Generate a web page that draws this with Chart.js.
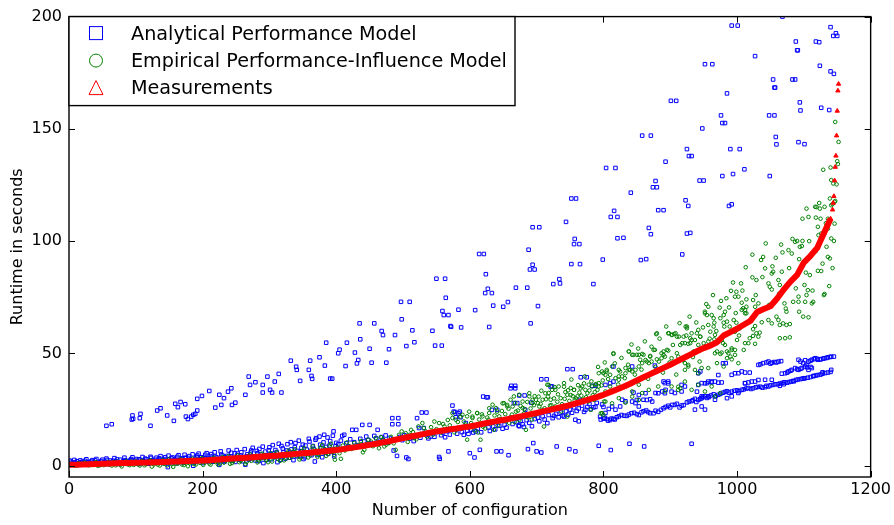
<!DOCTYPE html>
<html>
<head>
<meta charset="utf-8">
<script src="https://cdn.jsdelivr.net/npm/chart.js@4.4.0/dist/chart.umd.min.js"></script>
<style>
  html, body { margin: 0; padding: 0; background: #fff; }
</style>
</head>
<body>
<canvas id="myChart" width="894" height="525"></canvas>
<script>
// axis ticks and series labels
const xTicks = [0, 200, 400, 600, 800, 1000, 1200];
const yTicks = [0, 50, 100, 150, 200];
const seriesNames = ['Analytical Performance Model', 'Empirical Performance-Influence Model', 'Measurements'];

// [configuration, runtime]
const analyticalUpper = [
  [56,17.8],[64,18.5],[94,20.6],[95,22.4],[96,20.9],[106,21.2],[107,23.1],[122,17.8],[132,24.6],[137,25.6],
  [147,22.4],[157,20.0],[159,27.6],[163,26.1],[167,28.4],[174,27.4],[175,21.9],[178,20.8],[183,21.9],[186,22.7],
  [189,23.1],[192,24.6],[192,29.8],[199,31.1],[210,33.3],[219,25.9],[225,31.6],[228,27.1],[232,30.1],[238,33.0],
  [243,34.5],[244,27.1],[249,28.1],[264,31.6],[269,39.7],[271,36.0],[279,37.2],[290,36.0],[290,32.6],[297,39.7],
  [301,33.8],[304,32.6],[308,37.5],[314,40.9],[318,32.6],[332,46.8],[340,44.1],[341,42.7],[346,37.8],[359,42.7],
  [361,46.8],[363,40.0],[364,38.7],[375,48.3],[383,44.6],[385,54.8],[391,38.8],[394,38.8],[403,50.1],[405,51.7],
  [414,44.4],[416,54.8],[428,50.4],[431,45.6],[433,47.1],[435,63.4],[436,56.3],[450,52.1],[453,45.9],[457,63.4],
  [468,60.0],[470,58.2],[475,45.9],[479,51.9],[488,58.2],[497,73.0],[498,65.2],[505,53.3],[510,73.0],[514,60.3],
  [517,55.0],[544,60.1],[548,53.5],[550,83.3],[558,53.5],[559,68.9],[561,67.1],[563,83.3],[564,74.8],[568,67.1],
  [571,62.2],[572,61.9],[583,69.5],[587,61.6],[608,69.3],[614,94.3],[621,94.3],[623,76.9],[624,85.3],[627,78.8],
  [629,61.8],[633,76.9],[635,71.3],[650,70.8],[657,72.9],[669,79.3],[686,79.3],[688,96.2],[690,87.4],[691,63.4],
  [694,89.5],[694,106.2],[697,87.4],[702,71.1],[704,106.2],[725,80.9],[734,83.1],[735,81.2],[744,108.6],[752,89.8],
  [752,119.0],[756,98.7],[757,101.0],[759,119.0],[764,98.7],[765,89.8],[785,80.9],[799,91.8],[804,132.6],[811,110.8],
  [816,113.5],[818,132.6],[821,110.8],[821,101.3],[830,101.5],[841,121.6],[856,91.6],[858,147.0],[864,92.0],[868,105.9],
  [871,103.1],[871,147.0],[874,124.0],[878,126.8],[880,124.0],[882,113.8],[890,113.8],[893,135.4],[901,162.5],[909,162.5],
  [918,94.1],[923,118.2],[925,141.0],[925,103.4],[927,115.7],[928,137.9],[930,103.7],[932,137.9],[944,127.0],[948,150.2],
  [950,127.0],[952,178.8],[963,178.8],[976,156.0],[978,152.6],[978,129.0],[982,152.6],[985,165.8],[988,115.7],[990,141.0],
  [992,196.0],[992,116.4],[994,129.9],[1001,196.0],[1004,141.0],[1011,132.0],[1027,182.4],[1048,156.0],[1049,129.0],[1054,172.0],
  [1056,168.4],[1056,156.0],[1057,168.4],[1058,146.4],[1059,143.1],[1068,200.0],[1083,172.0],[1087,172.0],[1088,188.9],[1090,185.0],
  [1091,185.0],[1092,144.1],[1094,161.8],[1095,158.2],[1101,143.2],[1118,188.9],[1123,188.6],[1124,178.1],[1126,159.4],[1138,158.4],
  [1140,195.3],[1140,175.6],[1144,191.4],[1145,174.5],[1148,192.6],[1150,191.4]
];

const analyticalLower = [
  [0,1.0],[3,1.8],[6,0.8],[9,1.5],[12,2.0],[15,1.1],[18,1.6],[21,0.9],[24,2.2],[27,1.4],[30,1.0],[33,1.9],[36,1.3],[39,2.4],
  [42,0.9],[45,1.7],[48,2.1],[51,1.2],[54,1.8],[57,2.6],[60,1.0],[63,1.5],[66,2.2],[69,1.3],[72,2.8],[75,1.6],[78,0.9],[81,2.0],
  [84,2.5],[87,1.4],[90,1.9],[93,3.0],[96,1.2],[99,2.3],[102,1.7],[105,2.9],[108,1.1],[111,2.4],[114,3.2],[117,1.6],[120,2.1],
  [123,3.5],[126,1.3],[129,2.7],[132,2.0],[135,3.3],[138,1.5],[141,2.6],[144,3.8],[147,1.9],[148,-0.6],[150,2.8],[153,3.4],
  [156,1.7],[159,2.4],[162,4.0],[165,2.2],[168,3.0],[171,1.4],[174,3.6],[177,2.5],[180,4.3],[183,1.8],[186,0.0],[189,3.1],
  [192,4.6],[195,2.3],[198,3.8],[201,2.9],[204,4.9],[207,1.9],[210,3.4],[213,5.2],[216,2.6],[219,4.1],[222,3.0],[225,0.4],
  [228,5.0],[231,2.2],[234,3.7],[237,4.4],[240,2.8],[243,5.8],[246,3.3],[249,1.7],[252,4.8],[255,2.7],[258,6.0],[261,3.9],
  [264,0.5],[267,5.1],[270,3.0],[273,6.8],[276,4.2],[279,2.4],[282,5.6],[285,7.5],[288,3.5],[291,1.2],[294,6.3],[297,4.6],
  [300,8.2],[303,2.9],[306,5.4],[309,7.0],[312,1.6],[315,4.0],[318,8.8],[321,6.0],[324,3.2],[327,9.6],[330,5.0],[333,7.3],
  [336,2.5],[339,10.1],[342,6.6],[345,4.3],[348,8.0],[351,3.0],[354,9.0],[357,5.7],[360,10.8],[363,4.7],[366,7.6],[368,1.9],
  [370,12.3],[373,6.2],[376,9.4],[379,3.8],[382,13.8],[385,8.4],[388,5.3],[391,11.0],[394,7.0],[396,15.3],[397,4.2],[400,10.2],
  [1,2.3],[4,0.6],[8,2.6],[11,1.2],[14,0.5],[17,2.4],[20,1.8],[23,0.6],[26,2.9],[29,1.7],[32,0.7],[35,2.5],[38,1.0],[41,3.0],
  [44,1.4],[47,0.6],[50,2.7],[53,1.5],[56,3.2],[59,0.7],[62,2.3],[65,1.1],[68,3.4],[71,1.9],[74,0.8],[77,2.7],[80,1.3],[83,3.6],
  [86,2.1],[89,0.9],[92,2.5],[95,3.8],[98,1.6],[101,3.0],[104,0.8],[107,2.3],[110,3.9],[113,1.8],[116,2.8],[119,0.9],[122,4.0],
  [125,2.4],[128,1.4],[131,3.6],[134,2.6],[137,4.3],[140,1.2],[143,3.0],[146,2.2],[149,4.5],[152,1.5],[155,3.7],[158,2.9],
  [161,1.1],[164,4.7],[167,2.0],[170,3.3],[173,4.9],[176,1.8],[179,3.5],[182,2.7],[185,5.1],[188,1.5],[191,3.9],[194,5.4],
  [197,2.9],[200,1.2],[203,3.6],[206,5.6],[209,2.4],[212,4.3],[215,1.8],[218,6.0],[221,3.7],[224,2.5],[227,6.4],[230,4.5],
  [233,1.9],[236,3.3],[239,6.8],[242,4.0],[245,2.3],[248,5.5],[251,7.0],[254,3.6],[257,4.6],[260,2.0],[263,7.4],[266,4.2],
  [269,2.8],[272,5.9],[275,8.0],[278,3.4],[281,6.6],[284,2.1],[287,5.0],[290,8.5],[293,4.0],[296,2.6],[299,6.9],[302,5.2],
  [305,9.2],[308,3.8],[311,6.1],[314,9.8],[317,2.7],[320,7.7],[323,4.8],[326,6.8],[329,3.6],[332,10.5],[335,5.9],[338,8.3],
  [341,4.2],[344,11.2],[347,6.3],[350,9.4],[353,3.8],[356,7.2],[359,12.0],[362,5.6],[365,8.8],[369,11.6],[372,4.8],[375,13.0],
  [378,7.9],[381,10.4],[384,5.8],[387,12.6],[390,9.0],[393,6.2],[395,13.4],[399,8.8],
  [403,9.5],[407,11.2],[409,13.3],[412,13.8],[415,10.0],[418,8.6],[421,11.8],[424,16.0],[427,10.5],[430,16.0],[433,9.2],
  [436,12.0],[439,18.2],[442,10.8],[445,13.0],[448,11.5],[450,18.2],[453,9.9],[457,13.3],[460,12.2],[462,16.0],[465,10.6],
  [468,12.8],[471,11.1],[474,13.5],[477,10.3],[480,12.4],[484,21.2],[484,18.5],[486,6.8],[488,11.7],[491,4.4],[493,21.2],
  [493,18.5],[496,12.9],[499,11.4],[502,13.6],[505,3.7],[508,3.0],[510,12.1],[513,13.3],[516,11.0],[520,13.3],[521,21.2],
  [524,16.8],[526,12.5],[528,23.7],[531,16.8],[533,14.0],[535,23.7],[538,12.2],[541,13.0],[544,14.6],[547,12.9],[550,15.0],
  [554,3.9],[555,3.1],[557,13.6],[560,14.8],[563,12.7],[566,15.4],[568,6.4],[570,13.9],[574,26.8],[576,24.1],[578,23.9],
  [579,21.6],[581,14.3],[583,23.4],[585,24.1],[586,21.6],[588,15.0],[591,13.8],[594,19.0],[596,15.6],[598,14.2],[600,5.6],
  [602,16.1],[605,14.8],[607,3.7],[609,15.3],[612,16.6],[615,7.1],[617,14.9],[620,30.8],[625,30.5],[627,30.5],[628,17.1],
  [630,15.5],[633,24.9],[635,17.5],[638,16.2],[640,6.4],[641,24.9],[644,17.8],[647,6.4],[649,16.5],[652,18.3],[655,17.0],
  [658,4.7],[661,34.5],[662,35.6],[664,18.6],[666,27.9],[668,34.5],[668,35.6],[670,19.4],[671,27.9],[673,17.9],[674,31.3],
  [674,17.6],[676,19.9],[679,18.5],[681,17.3],[682,31.3],[683,24.9],[685,20.3],[687,7.4],[689,19.1],[692,28.1],[693,17.6],
  [695,10.1],[697,20.8],[700,6.4],[702,21.5],[704,19.8],[707,5.9],[707,38.5],[709,22.0],[712,20.6],[715,38.5],[716,19.0],
  [718,22.6],[721,35.3],[723,35.3],[724,21.2],[726,22.2],[729,23.1],[730,8.6],[733,21.6],[736,23.7],[739,22.4],[741,21.9],
  [744,24.2],[746,43.0],[747,22.8],[749,7.4],[750,25.0],[753,23.6],[754,43.0],[756,26.0],[758,6.4],[758,20.5],[760,24.4],
  [763,25.5],[763,19.8],[765,29.3],[766,39.4],[768,26.8],[771,24.0],[773,24.9],[775,39.4],[776,26.2],[779,27.5],[781,25.2],
  [783,35.6],[785,26.0],[788,35.6],[788,26.2],[790,28.0],[793,8.9],[795,21.9],[798,27.3],
  [800,21.0],[805,20.8],[810,20.4],[815,20.9],[820,21.6],[827,22.6],[835,22.2],[842,23.4],[850,23.0],[857,23.8],[864,24.6],
  [870,23.4],[875,23.4],[882,24.0],[890,25.6],[897,26.7],[903,27.1],[907,27.1],[914,26.0],[920,27.0],[925,28.2],[932,28.8],
  [937,29.8],[942,29.3],[947,30.1],[952,31.0],[958,30.6],[965,31.8],[972,31.6],[979,32.5],[985,33.2],[992,33.0],[1000,33.6],
  [1007,33.8],[1014,34.4],[1021,34.2],[1028,34.9],[1035,35.2],[1042,35.0],[1047,35.3],[1054,36.0],[1061,36.3],[1068,36.9],
  [1075,37.0],[1081,37.5],[1088,38.2],[1095,38.6],[1102,39.0],[1110,39.5],[1118,40.2],[1125,40.6],[1132,41.3],[1140,41.8],
  [796,20.6],[802,21.3],[807,20.1],[812,21.0],[817,20.6],[823,22.0],[831,22.3],[838,22.8],[846,23.6],[853,22.6],[860,24.3],
  [867,23.9],[878,24.5],[886,24.9],[893,26.2],[900,26.0],[910,27.6],[917,26.8],[928,28.6],[934,29.2],[939,28.4],[945,29.8],
  [949,30.6],[955,30.2],[961,31.3],[968,31.0],[975,32.0],[982,32.9],[988,32.6],[996,33.4],[1003,33.2],[1010,34.0],[1017,34.6],
  [1024,34.5],[1031,35.1],[1038,34.8],[1044,35.6],[1050,35.8],[1057,36.3],[1064,36.6],[1071,37.2],[1078,37.3],[1084,37.8],
  [1091,38.4],[1098,38.8],[1106,39.2],[1114,39.9],[1121,40.4],[1128,41.0],[1136,41.5],
  [800,26.2],[803,23.5],[808,25.3],[813,26.4],[818,25.0],[825,26.4],[828,29.4],[833,28.7],[843,28.6],[848,27.9],[850,29.3],
  [853,26.4],[865,29.3],[873,28.6],[937,25.0],[947,26.4],[952,25.0],
  [803,36.0],[810,36.7],[815,37.5],[845,32.6],[853,31.5],[860,29.4],[863,32.3],[870,29.6],[878,32.4],[882,32.3],[888,33.1],
  [890,37.5],[892,32.3],[893,33.8],[897,36.7],[902,33.0],[907,32.4],[917,36.0],[917,33.1],[922,35.3],[940,33.0],[942,36.0],
  [947,36.8],[947,30.9],[952,36.7],[955,36.8],[957,30.9],[962,37.5],[967,29.4],[967,37.5],[972,37.0],[977,37.1],[985,30.1],
  [992,30.9],[1002,32.4],[1012,36.7],[1022,37.5],[1032,38.2],
  [815,44.2],[843,44.2],[877,44.6],[892,36.8],[897,37.5],[942,41.2],[945,42.0],[957,37.5],[962,37.1],[972,40.4],[979,45.6],
  [983,45.7],[992,40.5],[997,41.2],[1002,41.2],[1007,42.0],[1012,41.5],[1012,36.8],[1017,37.1],[1019,41.5],[1027,37.5],
  [1032,44.9],[1039,45.7],[1042,38.3],[1047,46.4],[1052,45.9],[1052,38.3],[1062,46.4],[1064,35.6],[1070,36.3],[1072,41.2],
  [1077,42.0],[1082,42.7],[1085,37.6],[1087,43.5],[1092,47.2],[1092,42.7],[1097,43.5],[1099,45.7],[1100,38.9],[1102,44.2],
  [1104,44.9],[1107,46.4],[1107,42.7],[1112,47.2],[1112,43.5],[1115,40.0],[1117,47.9],[1121,47.2],[1126,47.5],[1128,41.6],
  [1131,47.9],[1136,48.3],[1141,48.6],[1141,42.7],
  [1035,45.2],[1044,46.0],[1050,45.5],[1056,46.2],[1059,46.0],[1066,46.6],[1095,46.4],[1102,47.0],[1110,46.8],[1115,47.5],
  [1120,47.6],[1124,47.3],[1129,47.7],[1134,48.0],[1139,48.4],[1145,48.6],[1067,41.0],[1075,41.5],[1080,42.3],[1090,43.0],
  [1095,43.2],[1105,43.8],[1110,44.0],
  [811,7.0],[839,9.8],[861,8.6],[932,9.8]
];

const empirical = [
  [2,0.3],[7,0.6],[12,0.1],[16,0.9],[21,0.4],[25,1.2],[30,0.2],[34,0.7],[39,1.4],[43,0.0],[48,0.8],[52,0.3],[57,1.1],[61,0.5],
  [66,1.6],[70,0.2],[75,0.9],[79,-0.3],[84,1.3],[88,0.6],[93,1.8],[97,0.4],[102,1.0],[106,0.1],[111,1.5],[115,0.7],[120,2.1],
  [124,-0.4],[129,1.2],[133,0.5],[138,1.9],[142,0.9],[147,0.2],[151,1.6],[156,-0.5],[160,1.0],[165,2.3],[169,0.6],[174,1.4],
  [178,-0.2],[183,2.0],[187,0.8],[192,2.7],[196,1.3],[201,0.4],[205,2.2],[210,1.0],[214,3.0],[219,1.7],[223,0.6],[228,2.6],
  [232,1.4],[237,3.3],[241,0.9],[246,2.1],[250,3.8],[255,1.6],[259,2.9],[264,0.8],[268,3.6],[273,2.2],[277,4.2],[282,1.5],
  [286,3.1],[291,4.7],[295,2.5],[300,3.9],[304,1.9],[309,5.1],[313,3.0],[318,4.4],[322,2.4],[327,5.7],[331,3.5],[336,6.2],
  [340,4.6],[345,2.8],[349,6.6],[354,5.0],[358,3.7],[363,7.2],[367,5.5],[372,4.0],[376,8.0],[381,6.0],[385,4.4],[390,8.6],
  [394,6.5],[398,2.7],
  [4,0.8],[9,0.2],[14,1.1],[18,0.5],[23,1.4],[27,0.3],[32,1.0],[37,0.4],[41,1.5],[46,0.2],[50,1.2],[55,0.6],[59,1.7],[64,0.1],
  [68,1.0],[73,1.8],[77,0.4],[82,0.9],[86,2.0],[91,0.3],[95,1.2],[100,1.9],[104,0.6],[109,2.2],[113,0.2],[118,1.3],[122,2.4],
  [127,0.6],[131,1.8],[136,0.1],[140,2.5],[145,1.2],[149,2.8],[154,0.7],[158,2.0],[163,1.0],[167,2.9],[172,0.3],[176,2.3],
  [181,1.1],[185,3.2],[190,0.6],[194,2.0],[199,3.4],[203,1.4],[208,2.6],[212,0.5],[217,3.6],[221,2.0],[226,1.0],[230,3.9],
  [235,2.3],[239,4.3],[244,1.2],[248,3.0],[253,4.6],[257,2.2],[262,3.9],[266,1.8],[271,5.0],[275,3.0],[280,4.5],[284,2.4],
  [289,5.4],[293,3.4],[298,1.6],[302,5.6],[307,3.8],[311,6.0],[316,2.2],[320,5.2],[325,3.4],[329,6.8],[334,4.3],[338,7.4],
  [343,5.4],[347,3.6],[352,7.8],[356,6.0],[361,4.6],[365,8.6],[370,6.8],[374,5.0],[379,9.2],[383,7.4],[388,5.4],[392,9.8],
  [396,7.6],
  [390,6.4],[397,4.9],[407,3.1],[420,8.6],[427,10.1],[434,9.3],[442,7.1],[448,11.6],[452,10.8],[459,12.3],[467,12.7],[472,8.6],
  [479,10.1],[489,7.1],[494,13.8],[498,15.3],[504,14.5],[512,16.0],[517,12.3],[523,17.5],[529,19.0],[534,15.3],[539,14.5],
  [547,19.7],[554,19.0],[562,17.5],[567,20.4],[574,23.4],[579,16.0],[586,21.9],[591,19.7],[596,11.6],[599,24.1],[604,21.9],
  [611,23.4],[616,11.6],[624,19.0],[629,25.6],[636,16.0],[641,24.1],[649,27.8],[656,27.1],[659,19.0],[664,26.4],[669,24.1],
  [674,20.4],[679,28.6],[684,16.0],[689,32.3],[694,29.3],[698,22.7],[703,30.8],[711,17.5],[713,32.3],[718,36.0],[723,33.8],
  [728,26.4],[736,30.1],[741,35.2],[746,21.9],[751,31.5],[756,33.8],[761,27.8],[766,34.5],[771,36.7],[776,32.3],[781,24.9],
  [786,29.3],[791,33.8],[796,23.4],[801,28.6],
  [402,8.2],[405,5.6],[410,9.0],[413,6.8],[416,10.4],[423,7.5],[430,8.0],[437,11.0],[440,6.0],[445,9.6],[455,8.7],[462,10.5],
  [464,7.8],[470,11.8],[475,9.4],[482,12.9],[486,10.0],[492,11.6],[501,12.2],[507,10.6],[510,13.8],[515,15.0],[520,11.8],
  [526,14.2],[531,16.8],[536,13.0],[542,17.2],[545,13.9],[550,16.3],[557,14.8],[560,18.6],[565,15.8],[570,18.0],[577,14.9],
  [582,19.5],[588,16.8],[594,18.3],[602,19.0],[607,15.8],[614,20.6],[620,17.4],[626,21.5],[632,18.9],[646,20.7],[653,23.0],
  [661,21.7],[667,19.5],[672,24.6],[677,22.0],[682,25.3],[687,21.5],[691,25.5],[696,27.0],[701,23.8],[706,27.6],[708,24.9],
  [714,29.6],[720,26.8],[726,30.0],[731,28.5],[738,27.4],[743,32.8],[749,28.9],[754,31.0],[759,30.0],[764,32.6],[769,29.5],
  [774,30.5],[779,33.5],[784,31.4],[789,36.4],[794,31.0],[799,38.0],
  [606,18.0],[612,14.8],[618,22.9],[623,16.6],[628,20.5],[637,22.4],[642,18.0],[648,24.4],[654,19.9],[658,25.4],[663,22.8],
  [668,28.0],[676,26.6],[681,23.3],[686,28.4],[693,20.6],[697,31.0],[702,27.9],[707,33.4],[712,25.6],[717,30.8],[722,27.0],
  [727,35.0],[732,31.8],[737,24.2],[742,29.8],[747,33.6],[752,38.4],[757,29.2],[762,35.9],[767,31.2],[772,39.8],[777,28.6],
  [782,37.6],[787,32.8],[792,44.0],[797,35.8],[802,46.0],[807,38.6],[812,33.0],[817,45.6],[822,36.2],[827,48.0],[832,39.0],
  [837,45.0],[842,54.0],[847,40.6],[852,52.2],[857,42.8],[862,55.4],[867,38.7],[872,53.0],[878,44.0],[884,56.6],[889,41.5],
  [894,62.0],[899,46.0],[904,53.8],[909,40.6],[914,63.5],[919,47.0],[924,58.0],[929,66.4],[934,48.4],[939,63.8],[944,46.4],
  [949,61.6],[954,72.0],[959,56.6],[964,76.0],[969,60.0],[974,70.4],[979,54.6],[984,74.6],[989,62.0],[994,81.6],[998,68.0],
  [1003,58.0],[1008,78.0],[1013,88.4],[1018,64.5],[1023,94.0],[1028,76.0],[1033,68.6],[1038,84.0],[1043,99.0],[1048,71.6],
  [1053,88.8],[1058,92.6],[1063,76.6],[1068,95.0],[1073,70.0],[1078,88.0],[1083,101.0],[1088,79.0],[1093,92.0],[1098,110.0],
  [1103,86.0],[1108,100.0],[1113,78.0],[1118,95.6],[1123,117.0],[1128,90.0],[1133,108.0],
  [574,21.3],[579,20.5],[589,22.7],[596,22.0],[604,21.3],[611,23.5],[619,22.0],[629,23.5],[634,27.2],[639,25.7],[644,22.0],
  [651,27.9],[656,26.4],[661,29.4],[666,30.9],[674,31.6],[679,25.7],[689,30.9],[694,27.9],[699,29.4],[704,26.4],[709,29.4],
  [716,36.1],[718,32.4],[721,29.4],[728,33.8],[733,35.3],[741,36.8],[746,31.6],[751,34.6],[756,33.8],[761,30.9],[768,35.3],
  [773,33.8],[778,36.1],[783,35.3],[788,36.1],[793,36.8],[800,41.2],[805,42.0],[813,44.2],[815,50.1],[823,39.8],[825,42.0],
  [830,35.3],[833,43.5],[838,50.9],[840,42.7],[845,49.4],[850,49.4],[855,47.2],[860,49.4],[865,46.4],[870,48.6],[875,51.6],
  [880,59.0],[883,46.4],[890,49.4],[895,51.6],[898,59.0],[903,58.3],[908,59.0],[913,57.5],[918,54.6],[922,42.7],[925,62.0],
  [927,44.9],[930,54.6],[935,50.9],[940,59.0],[945,57.5],[950,54.6],[952,67.9],[957,62.7],[960,59.7],[965,62.0],[967,58.3],
  [970,50.9],[975,65.7],[980,67.1],[982,53.8],[987,50.1],[992,52.3],[995,64.9],[1000,56.0],[1002,45.7],[1007,69.4],[1010,51.6],
  [1012,67.9],[1014,70.8],
  [795,31.5],[803,28.6],[813,27.8],[823,30.1],[833,28.1],[843,30.8],[853,29.3],[798,23.4],[800,22.7],[912,35.2],[915,34.5],
  [793,41.2],[798,42.0],[803,40.5],[805,42.7],[810,40.5],[818,39.0],[823,42.7],[828,39.8],[833,41.2],[838,42.7],[843,42.0],
  [848,42.7],[853,44.2],[858,45.7],[863,47.1],[868,45.7],[872,46.4],[880,47.4],[887,47.9],[892,48.6],[902,47.9],[912,48.6],
  [922,45.7],[927,44.2],[937,42.7],[942,41.2],[947,43.5],[957,43.5],[970,45.7],[980,44.2],[990,48.6],[997,51.6],
  [793,35.3],[803,33.1],[810,35.3],[823,38.3],[833,35.3],[843,33.1],[853,36.1],[858,32.4],[868,33.8],[882,35.3],[892,33.1],
  [902,35.3],[912,33.8],[922,37.5],[932,33.8],[942,36.1],[952,33.1],[962,35.3],[967,30.9],[975,32.4],
  [815,49.8],[838,50.9],[843,49.4],[853,49.4],[858,49.8],[870,48.9],[877,51.6],[887,50.1],[890,50.9],[897,51.3],[910,50.1],
  [967,50.1],[975,49.8],[977,50.4],[985,50.9],[992,51.6],[997,49.4],[985,47.9],[992,47.4],
  [952,53.0],[957,55.3],[966,56.3],[972,56.0],[977,56.0],[915,53.8],[922,54.6],[927,54.3],[932,56.0],[942,53.8],
  [920,57.5],[930,56.8],[937,56.0],[945,57.5],[925,61.2],[932,59.0],[942,60.5],[879,58.6],[897,59.0],[902,58.3],[910,57.5],
  [906,58.7],[1012,54.6],[1017,54.6],[1019,56.8],[1027,54.3],[1064,56.8],[1072,56.8],[1079,57.2],[1024,57.8],[1029,59.0],
  [1034,59.3],[1032,57.5],[1037,63.9],[1047,64.9],[1052,63.4],[1059,66.4],[1062,64.9],[1064,62.7],[1069,63.4],[1074,62.7],
  [1079,63.1],[1027,62.2],[1024,60.8],[999,63.7],[1004,61.2],[997,59.7],[980,63.7],[981,62.0],[966,63.7],[923,62.0],
  [952,68.6],[957,70.8],[955,67.1],[962,67.1],[965,65.7],[982,68.6],[988,70.5],[985,64.2],
  [1007,72.6],[1009,70.1],[1012,69.4],[1014,67.9],[1027,70.8],[1032,72.3],[1071,72.3],[1074,68.6],[1084,73.0],[1092,73.0],
  [1102,73.0],[1112,72.3],[1114,73.0],[1093,68.6],[1099,66.4],[1107,66.1],[976,73.4],[1014,74.1],[1024,73.8],[1092,75.3],
  [1104,76.0],[1131,76.5],[991,77.9],[999,77.5],[1002,75.3],[997,75.3],[1006,81.2],[1047,81.2],[1049,79.7],[1052,78.5],
  [1062,82.7],[1064,80.5],[1101,80.5],[1106,78.2],[1023,83.9],[1029,82.7],[1052,85.6],[1054,86.4],[1067,86.4],[1109,84.9],
  [1121,86.8],[1126,86.7],[1042,87.9],[1036,91.6],[1039,93.0],[1136,93.0],[1139,92.3],[1077,96.0],[1082,94.5],[1097,97.8],
  [1134,97.5],[1066,98.5],[1087,99.7],[1090,100.1],[1094,97.5],[1098,100.1],[1122,102.7],[1126,103.4],[1141,101.2],
  [1145,100.1],[1121,106.4],[1136,105.6],[1146,107.8],[1107,110.8],[1118,110.5],[1125,110.0],[1136,110.0],[1104,114.5],
  [1119,115.2],[1124,114.5],[1141,116.0],[1146,117.5],[1130,76.0],[1138,80.0],[1143,88.0],
  [1147,153.1],[1152,144.2],[1150,135.6],[1151,134.3],[1140,132.8],[1129,131.8],[1141,127.2],[1144,125.7],[1149,125.3],
  [1139,119.0],[1147,117.9],[1143,116.5],[1117,115.3],[1131,115.3]
];

const measurements = [
  [0,0.4],[10,0.5],[20,0.6],[30,0.7],[40,0.8],[50,0.9],[60,1.0],[70,1.1],[80,1.2],[90,1.2],[100,1.3],[110,1.4],[120,1.5],
  [130,1.6],[140,1.7],[150,1.8],[160,1.9],[170,2.0],[180,2.1],[190,2.2],[200,2.3],[210,2.5],[220,2.7],[230,2.9],[240,3.1],
  [250,3.3],[260,3.5],[270,3.7],[280,3.9],[290,4.1],[300,4.3],[310,4.5],[320,4.8],[330,5.0],[340,5.3],[350,5.6],[360,5.8],
  [370,6.1],[380,6.4],[390,6.7],[400,7.0],[410,7.4],[420,7.9],[430,8.3],[440,8.8],[450,9.3],[460,9.8],[470,10.4],[480,11.0],
  [490,11.7],[500,12.3],[510,12.9],[520,13.5],[530,14.1],[540,14.7],[550,15.3],[560,15.7],[570,16.2],[580,16.6],[590,17.1],
  [600,17.5],[610,18.1],[620,18.7],[630,19.3],[640,19.9],[650,20.4],[660,21.0],[670,21.6],[680,22.2],[690,22.9],[700,23.5],
  [710,24.2],[720,24.9],[730,25.6],[740,26.3],[750,27.0],[760,27.9],[770,28.8],[780,29.7],[790,30.6],[800,31.6],[810,32.8],
  [820,34.0],[830,35.2],[840,36.5],[850,38.0],[860,39.4],[870,40.8],[880,42.2],[890,43.6],[900,45.0],[910,46.5],[920,48.0],
  [930,49.5],[940,51.0],[950,52.4],[960,53.5],[970,55.0],[980,58.0],[990,59.5],[1000,61.0],[1010,62.8],[1020,64.5],
  [1030,68.5],[1040,69.8],[1050,71.0],[1060,74.5],[1070,78.5],[1080,82.0],[1090,85.0],[1100,90.5],[1110,93.5],[1120,97.0],
  [1130,103.5],[1140,110.0],[1143,114.0],[1144,117.0],[1145,120.0],[1146,127.0],[1147,133.0],[1148,138.0],[1149,147.0],
  [1150,158.0],[1151,167.0],[1152,170.0]
];

const BLUE = '#0000ff';
const GREEN = '#008000';
const RED = '#ff0000';
const FONT = '"DejaVu Sans", sans-serif';

const toPoints = pairs => pairs.map(p => ({ x: p[0], y: p[1] }));

// frame, inward ticks on all four sides, legend box
const framePlugin = {
    id: 'frame',
    afterDraw(chart) {
        const { ctx, chartArea: a, scales: { x, y } } = chart;
        ctx.save();
        ctx.strokeStyle = '#000';
        ctx.lineWidth = 1;
        ctx.beginPath();
        xTicks.forEach(v => {
            const px = Math.round(x.getPixelForValue(v)) + 0.5;
            ctx.moveTo(px, a.bottom); ctx.lineTo(px, a.bottom - 6);
            ctx.moveTo(px, a.top); ctx.lineTo(px, a.top + 6);
        });
        yTicks.forEach(v => {
            const py = Math.round(y.getPixelForValue(v)) + 0.5;
            ctx.moveTo(a.left, py); ctx.lineTo(a.left + 6, py);
            ctx.moveTo(a.right, py); ctx.lineTo(a.right - 6, py);
        });
        ctx.stroke();
        ctx.lineWidth = 1.4;
        ctx.strokeRect(a.left, a.top, a.right - a.left, a.bottom - a.top);

        // legend
        const lx = a.left, ly = a.top, lw = 446, lh = 89;
        ctx.fillStyle = '#fff';
        ctx.fillRect(lx, ly, lw, lh);
        ctx.strokeRect(lx, ly, lw, lh);
        const mx = lx + 27;
        const rows = [ly + 16.5, ly + 44, ly + 71];
        ctx.lineWidth = 1;
        ctx.strokeStyle = BLUE;
        ctx.strokeRect(mx - 6.5, rows[0] - 6.5, 13, 13);
        ctx.strokeStyle = GREEN;
        ctx.beginPath();
        ctx.arc(mx, rows[1], 6.5, 0, Math.PI * 2);
        ctx.stroke();
        ctx.strokeStyle = RED;
        ctx.beginPath();
        ctx.moveTo(mx, rows[2] - 7);
        ctx.lineTo(mx + 7, rows[2] + 7);
        ctx.lineTo(mx - 7, rows[2] + 7);
        ctx.closePath();
        ctx.stroke();
        ctx.fillStyle = '#000';
        ctx.font = '19.2px ' + FONT;
        ctx.textBaseline = 'alphabetic';
        ctx.textAlign = 'left';
        seriesNames.forEach((name, i) => ctx.fillText(name, lx + 62, rows[i] + 6.5));
        ctx.restore();
    }
};

new Chart(document.getElementById('myChart'), {
    type: 'scatter',
    data: {
        datasets: [
            {
                label: seriesNames[2],
                data: toPoints(measurements),
                order: 0,
                showLine: true,
                borderColor: RED,
                borderWidth: 6,
                borderJoinStyle: 'round',
                tension: 0,
                segment: {
                    borderColor: c => c.p0.parsed.x >= 1140 ? 'rgba(0,0,0,0)' : undefined
                },
                pointStyle: 'triangle',
                pointRadius: 2.5,
                pointBorderWidth: 1,
                pointBorderColor: RED,
                pointBackgroundColor: RED
            },
            {
                label: seriesNames[1],
                data: toPoints(empirical),
                order: 1,
                pointStyle: 'circle',
                pointRadius: 1.8,
                pointBorderWidth: 1,
                pointBorderColor: GREEN,
                pointBackgroundColor: 'rgba(0,0,0,0)'
            },
            {
                label: seriesNames[0],
                data: toPoints(analyticalLower.concat(analyticalUpper)),
                order: 2,
                pointStyle: 'rect',
                pointRadius: 2.5,
                pointBorderWidth: 1,
                pointBorderColor: BLUE,
                pointBackgroundColor: 'rgba(0,0,0,0)'
            }
        ]
    },
    options: {
        responsive: false,
        animation: false,
        events: [],
        layout: { padding: { left: 0, top: 16, right: 21, bottom: 0 } },
        plugins: { legend: { display: false }, tooltip: { enabled: false } },
        scales: {
            x: {
                type: 'linear',
                min: 0,
                max: 1200,
                afterBuildTicks: s => { s.ticks = xTicks.map(v => ({ value: v })); },
                afterFit: s => { s.height = 48; },
                grid: { display: false, drawTicks: false },
                border: { display: false },
                ticks: { color: '#000', padding: 3, font: { family: FONT, size: 16 }, callback: v => String(v) },
                title: {
                    display: true,
                    text: 'Number of configuration',
                    color: '#000',
                    padding: { top: 0, bottom: 5 },
                    font: { family: FONT, size: 16 }
                }
            },
            y: {
                type: 'linear',
                min: -5,
                max: 200,
                afterBuildTicks: s => { s.ticks = yTicks.map(v => ({ value: v })); },
                afterFit: s => { s.width = 69; },
                grid: { display: false, drawTicks: false },
                border: { display: false },
                ticks: { color: '#000', padding: 7, font: { family: FONT, size: 16 }, callback: v => String(v) },
                title: {
                    display: true,
                    text: 'Runtime in seconds',
                    color: '#000',
                    padding: { top: 8, bottom: 0 },
                    font: { family: FONT, size: 16 }
                }
            }
        }
    },
    plugins: [framePlugin]
});
</script>
</body>
</html>
